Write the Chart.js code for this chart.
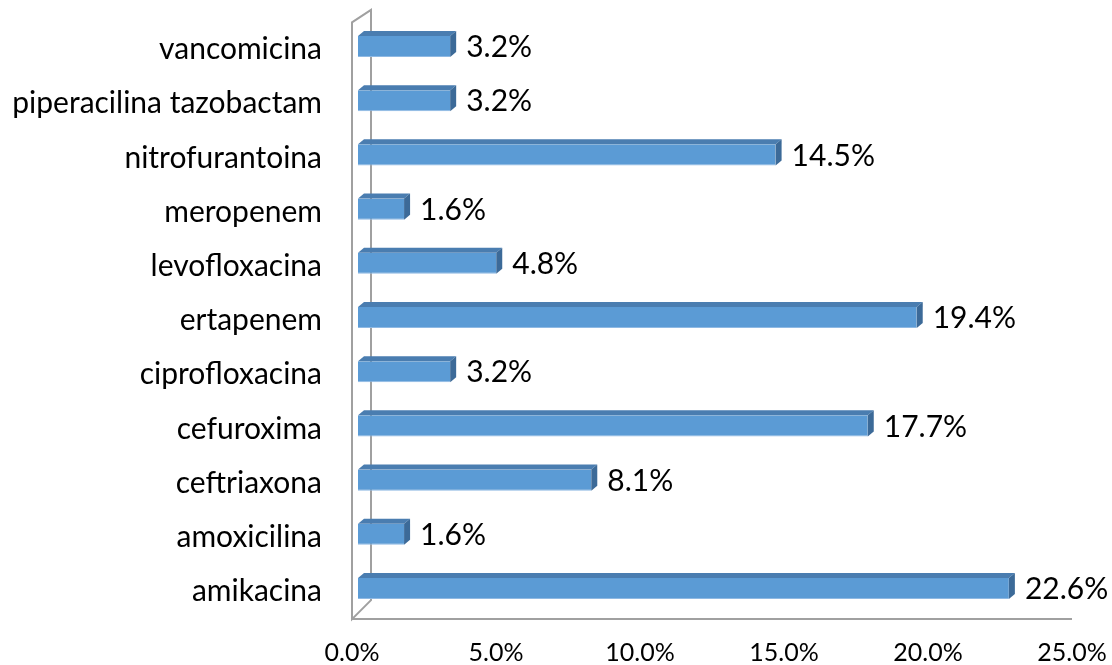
<!DOCTYPE html>
<html>
<head>
<meta charset="utf-8">
<script src="https://cdn.jsdelivr.net/npm/chart.js@4"></script>
<style>
  html, body { margin: 0; padding: 0; background: #fff; }
  #wrap { width: 1112px; height: 665px; }
</style>
</head>
<body>
<div id="wrap"><canvas id="myChart"></canvas></div>
<script>
const antibioticos = ['vancomicina', 'piperacilina tazobactam', 'nitrofurantoina', 'meropenem',
  'levofloxacina', 'ertapenem', 'ciprofloxacina', 'cefuroxima', 'ceftriaxona', 'amoxicilina', 'amikacina'];
const porcentajes = [3.2, 3.2, 14.5, 1.6, 4.8, 19.4, 3.2, 17.7, 8.1, 1.6, 22.6];
const ticksX = [0, 5, 10, 15, 20, 25];

const FONT = 'Lato';
const DX = 6, DY = 5; // bar depth

// gray wall outline behind the bars
const pared = {
  id: 'pared',
  beforeDatasetsDraw(chart) {
    const { ctx, chartArea: a, scales: { x } } = chart;
    const xf = x.getPixelForValue(0) - 6;
    const xb = xf + 19;
    const xEnd = x.getPixelForValue(25) - 6;
    ctx.save();
    ctx.strokeStyle = '#a0a0a0';
    ctx.lineWidth = 2;
    ctx.beginPath();
    ctx.moveTo(xf, a.top + 3);
    ctx.lineTo(xf, a.bottom + 3.5);
    ctx.lineTo(xb, a.bottom - 15.5);
    ctx.lineTo(xb, a.top - 9.5);
    ctx.closePath();
    ctx.moveTo(xf, a.bottom + 3.5);
    ctx.lineTo(xEnd, a.bottom + 3.5);
    ctx.stroke();
    ctx.restore();
  }
};

// top and end faces of each bar, then the value labels
const barras3d = {
  id: 'barras3d',
  afterDatasetsDraw(chart) {
    const { ctx } = chart;
    const meta = chart.getDatasetMeta(0);
    ctx.save();
    meta.data.forEach((bar, i) => {
      const p = bar.getProps(['x', 'y', 'base', 'height'], true);
      const t = p.y - p.height / 2, b = p.y + p.height / 2;
      ctx.fillStyle = '#4a7db0';
      ctx.beginPath();
      ctx.moveTo(p.base, t);
      ctx.lineTo(p.base + DX, t - DY);
      ctx.lineTo(p.x + DX, t - DY);
      ctx.lineTo(p.x, t);
      ctx.closePath();
      ctx.fill();
      ctx.fillStyle = '#3c6a98';
      ctx.beginPath();
      ctx.moveTo(p.x, t);
      ctx.lineTo(p.x + DX, t - DY);
      ctx.lineTo(p.x + DX, b - DY);
      ctx.lineTo(p.x, b);
      ctx.closePath();
      ctx.fill();

      ctx.fillStyle = '#000';
      ctx.font = '30px ' + FONT;
      ctx.textAlign = 'left';
      ctx.textBaseline = 'middle';
      ctx.fillText(porcentajes[i].toFixed(1) + '%', p.x + 16, p.y + 1);
    });
    ctx.restore();
  }
};

new Chart(document.getElementById('myChart'), {
  type: 'bar',
  data: {
    labels: antibioticos,
    datasets: [{
      data: porcentajes,
      backgroundColor: '#5b9bd5',
      borderColor: '#8fb9e3',
      borderWidth: { top: 0, right: 0, bottom: 1, left: 0 },
      borderSkipped: false,
      categoryPercentage: 1,
      barPercentage: 0.39
    }]
  },
  options: {
    indexAxis: 'y',
    responsive: true,
    maintainAspectRatio: false,
    animation: false,
    layout: { padding: { top: 19.4, right: 34, bottom: 0, left: 0 } },
    plugins: { legend: { display: false }, tooltip: { enabled: false } },
    scales: {
      x: {
        min: 0,
        max: 25,
        afterBuildTicks: s => { s.ticks = ticksX.map(v => ({ value: v })); },
        afterFit: s => {
          s.height = 49.4;
          s.paddingLeft = 0;
          s.paddingRight = 0;
        },
        grid: { display: false, drawTicks: false },
        border: { display: false },
        ticks: {
          padding: 22,
          labelOffset: -6,
          color: '#000',
          font: { family: FONT, size: 25 },
          callback: v => v.toFixed(1) + '%',
          maxRotation: 0
        }
      },
      y: {
        afterFit: s => {
          s.width = 358;
          s.paddingTop = 0;
          s.paddingBottom = 0;
        },
        grid: { display: false, drawTicks: false },
        border: { display: false },
        ticks: {
          padding: 36,
          labelOffset: 3,
          color: '#000',
          font: { family: FONT, size: 30 }
        }
      }
    }
  },
  plugins: [pared, barras3d]
});
</script>
</body>
</html>
